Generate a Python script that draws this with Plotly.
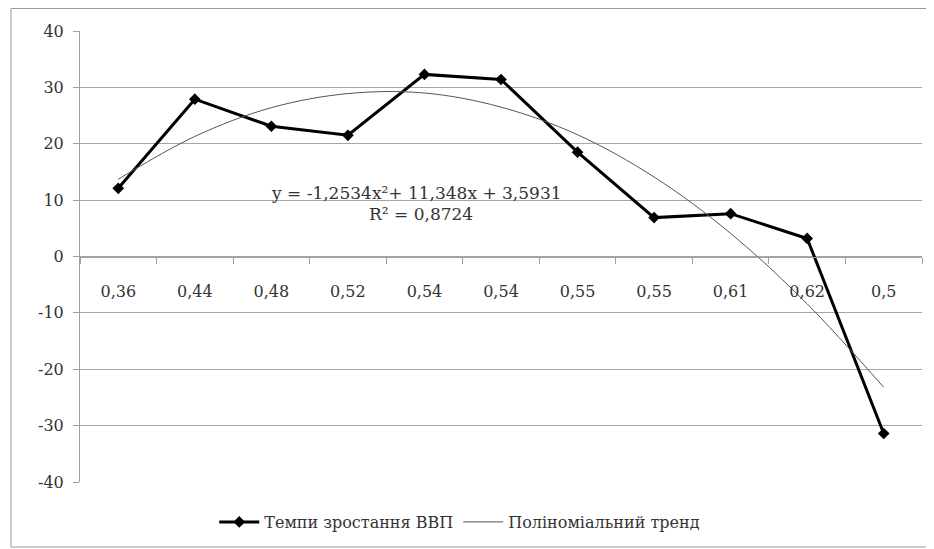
import plotly.graph_objects as go

categories = ["0,36", "0,44", "0,48", "0,52", "0,54", "0,54", "0,55", "0,55", "0,61", "0,62", "0,5"]
gdp_growth = [12.1, 27.9, 23.1, 21.5, 32.3, 31.4, 18.5, 6.9, 7.6, 3.2, -31.4]
trend_values = [13.7, 21.3, 26.4, 28.9, 29.0, 26.5, 21.6, 14.1, 4.1, -8.4, -23.2]
y_ticks = [-40, -30, -20, -10, 0, 10, 20, 30, 40]
y_tick_labels = ["-40", "-30", "-20", "-10", "0", "10", "20", "30", "40"]
series_names = ["Темпи зростання ВВП", "Поліноміальний тренд"]
equation_text = "y = -1,2534x²+ 11,348x + 3,5931"
r2_text = "R² = 0,8724"

x_idx = list(range(len(categories)))

FONT = "DejaVu Serif"
TXT = "#333333"
FS = 16

# the page has an 8px body margin, so the figure is sized to fill the rest of the window
W, H = 926, 541
L, R, T, B = 72, 12, 23, 67
PW, PH = W - L - R, H - T - B

fig = go.Figure()
fig.add_trace(go.Scatter(
    x=x_idx, y=gdp_growth, name=series_names[0], mode="lines+markers",
    line=dict(color="#000000", width=3),
    marker=dict(symbol="diamond", size=9, color="#000000"),
))
fig.add_trace(go.Scatter(
    x=x_idx, y=trend_values, name=series_names[1], mode="lines",
    line=dict(color="#555555", width=1, shape="spline", smoothing=1.0),
))

fig.update_layout(
    width=W, height=H,
    margin=dict(l=L, r=R, t=T, b=B, autoexpand=False),
    paper_bgcolor="white", plot_bgcolor="white",
    font=dict(family=FONT, size=FS, color=TXT),
    showlegend=True,
    legend=dict(orientation="h", x=0.451, xanchor="center",
                yref="container", y=1 - 514 / H, yanchor="middle",
                font=dict(family=FONT, size=FS, color=TXT), itemwidth=40,
                bgcolor="rgba(0,0,0,0)"),
    xaxis=dict(
        range=[-0.5, len(categories) - 0.5],
        tickvals=x_idx, ticktext=categories,
        ticks="", showgrid=False, zeroline=False,
        showline=True, linecolor="#a0a0a0", linewidth=1,
        anchor="free", position=0.5, automargin=False,
        ticklabelstandoff=20,
        tickfont=dict(family=FONT, size=FS, color=TXT),
        minor=dict(tick0=-0.5, dtick=1, ticks="outside", ticklen=6, tickcolor="#a0a0a0", showgrid=False),
    ),
    yaxis=dict(
        range=[-40, 40], tickvals=y_ticks, ticktext=y_tick_labels,
        showgrid=True, gridcolor="#a6a6a6", gridwidth=1, automargin=False,
        zeroline=False, showline=True, linecolor="#a0a0a0", linewidth=1,
        ticks="outside", ticklen=6, tickcolor="#a0a0a0", ticklabelstandoff=6,
        tickfont=dict(family=FONT, size=FS, color=TXT),
    ),
)

fig.add_annotation(x=3.9, y=11.2, xref="x", yref="y", text=equation_text, showarrow=False,
                   font=dict(family=FONT, size=17, color=TXT))
fig.add_annotation(x=3.95, y=7.6, xref="x", yref="y", text=r2_text, showarrow=False,
                   font=dict(family=FONT, size=17, color=TXT))

# outer chart border
fig.add_shape(type="rect", xref="paper", yref="paper",
              x0=(3 - L) / PW, x1=(923 - L) / PW,
              y0=(T + PH - 539) / PH, y1=(T + PH - 0.5) / PH,
              line=dict(color="#9a9a9a", width=1), layer="below")

fig.write_html("out.html")
